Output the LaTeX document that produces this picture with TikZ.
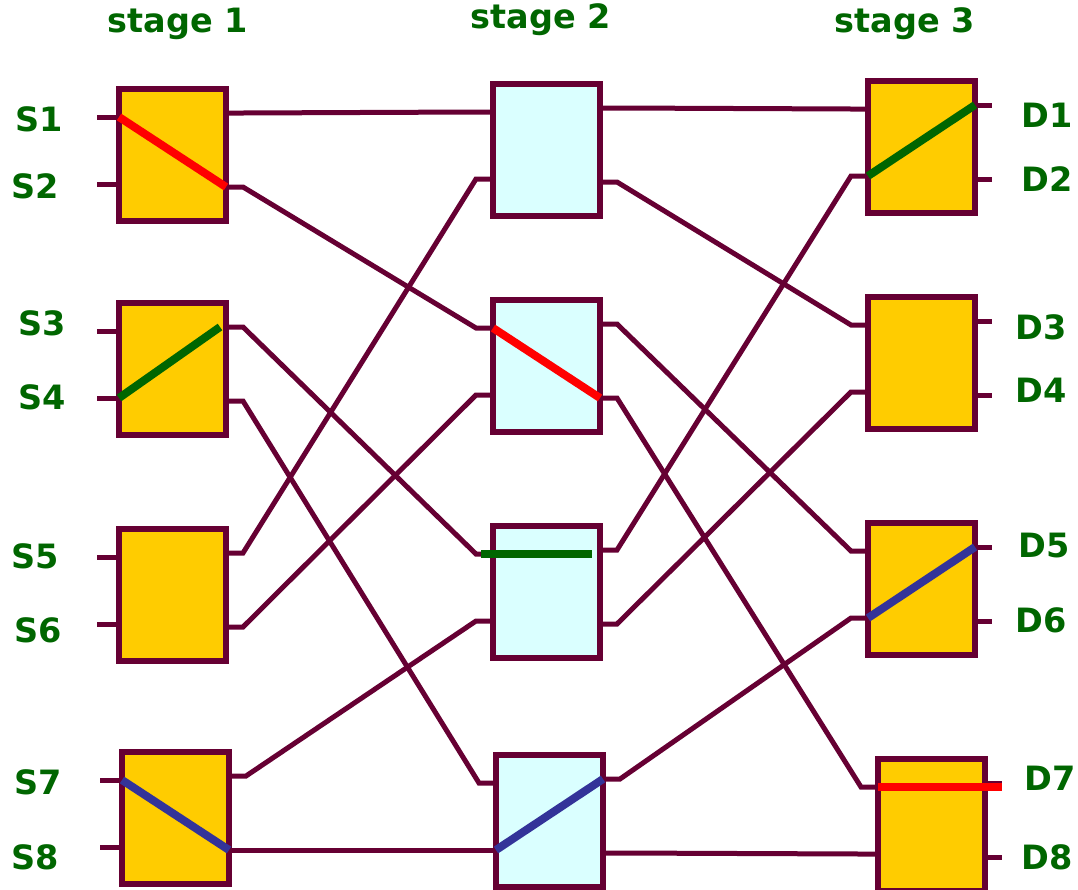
\documentclass[tikz,border=0pt]{standalone}
\usepackage{fontspec}
\setmainfont{DejaVu Sans}
\usetikzlibrary{calc}

\definecolor{wire}{HTML}{660033}
\definecolor{swyellow}{HTML}{FFCC00}
\definecolor{swcyan}{HTML}{DAFFFF}
\definecolor{lbl}{HTML}{006600}
\definecolor{barblue}{HTML}{333399}

% one 2x2 switch: name, left, top, fill
\newcommand\swnode[4]{%
  \node[sw box, fill=#4] (#1) at (#2,#3) {};
  \coordinate (#1-i1) at ($(#1.north west)+(0,-28pt)$);
  \coordinate (#1-i2) at ($(#1.north west)+(0,-95pt)$);
  \coordinate (#1-o1) at ($(#1.north east)+(0,-24pt)$);
  \coordinate (#1-o2) at ($(#1.north east)+(0,-98pt)$);
  \coordinate (#1-i1t) at ($(#1-i1)+(-17pt,0)$);
  \coordinate (#1-i2t) at ($(#1-i2)+(-17pt,0)$);
  \coordinate (#1-o1t) at ($(#1-o1)+(17pt,0)$);
  \coordinate (#1-o2t) at ($(#1-o2)+(17pt,0)$);
}

\begin{document}
\begin{tikzpicture}[x=1pt,y=-1pt,
    sw box/.style={draw=wire,line width=5.5pt,anchor=north west,outer sep=0pt,
      minimum width=107pt,minimum height=132pt,inner sep=0pt},
    wire/.style={draw=wire,line width=5pt},
    bar/.style={line width=8pt},
    lab/.style={text=lbl,font=\fontsize{33.5}{40}\selectfont\bfseries,inner sep=0pt}]
  \useasboundingbox (0,0) rectangle (1078,889);

  % stage titles
  \node[lab] (t1) at (178,24) {stage 1};
  \node[lab] (t2) at (541,20) {stage 2};
  \node[lab] (t3) at (905,24) {stage 3};

  % the switches
  \swnode{A1}{119}{89}{swyellow}
  \swnode{A2}{119}{303}{swyellow}
  \swnode{A3}{119}{529}{swyellow}
  \swnode{A4}{122}{752}{swyellow}
  \swnode{B1}{493}{84}{swcyan}
  \swnode{B2}{493}{300}{swcyan}
  \swnode{B3}{493}{526}{swcyan}
  \swnode{B4}{496}{755}{swcyan}
  \swnode{C1}{868}{81}{swyellow}
  \swnode{C2}{868}{297}{swyellow}
  \swnode{C3}{868}{523}{swyellow}
  \swnode{C4}{878}{759}{swyellow}

  % sources and destinations
  \foreach \s/\b/\p/\x/\y in {S1/A1/i1/39/119, S2/A1/i2/35/186,
      S3/A2/i1/42/323, S4/A2/i2/42/397, S5/A3/i1/35/556,
      S6/A3/i2/38/630, S7/A4/i1/38/782, S8/A4/i2/35/857} {
    \node[lab] (\s) at (\x,\y) {\s};
    \draw[wire] (\b-\p) -- ++(-22pt,0);
  }
  \foreach \d/\b/\p/\x/\y in {D1/C1/o1/1047/115, D2/C1/o2/1047/179,
      D3/C2/o1/1041/327, D4/C2/o2/1041/390, D5/C3/o1/1044/546,
      D6/C3/o2/1041/620, D7/C4/o1/1050/778, D8/C4/o2/1047/857} {
    \node[lab] (\d) at (\x,\y) {\d};
    \draw[wire] (\b-\p) -- (\b-\p t);
  }

  % links between the stages
  \foreach \a/\pa/\b/\pb in {A1/o1/B1/i1, A1/o2/B2/i1, A2/o1/B3/i1,
      A2/o2/B4/i1, A3/o1/B1/i2, A3/o2/B2/i2, A4/o1/B3/i2, A4/o2/B4/i2,
      B1/o1/C1/i1, B1/o2/C2/i1, B2/o1/C3/i1, B2/o2/C4/i1,
      B3/o1/C1/i2, B3/o2/C2/i2, B4/o1/C3/i2, B4/o2/C4/i2}
    \draw[wire] (\a-\pa) -- (\a-\pa t) -- (\b-\pb t) -- (\b-\pb);

  % switch settings
  \draw[bar,red] (A1-i1) -- (A1-o2);
  \draw[bar,lbl] (A2-i2) -- ([xshift=-6pt]A2-o1);
  \draw[bar,barblue] (A4-i1) -- (A4-o2);
  \draw[bar,red] (B2-i1) -- (B2-o2);
  \draw[bar,lbl] ([xshift=-12pt]B3-i1) -- ([xshift=-8pt]B3.east |- B3-i1);
  \draw[bar,barblue] (B4-i2) -- (B4-o1);
  \draw[bar,lbl] (C1-i2) -- (C1-o1);
  \draw[bar,barblue] (C3-i2) -- (C3-o1);
  \draw[bar,red] (C4-i1) -- (C4-o1t |- C4-i1);
\end{tikzpicture}
\end{document}
